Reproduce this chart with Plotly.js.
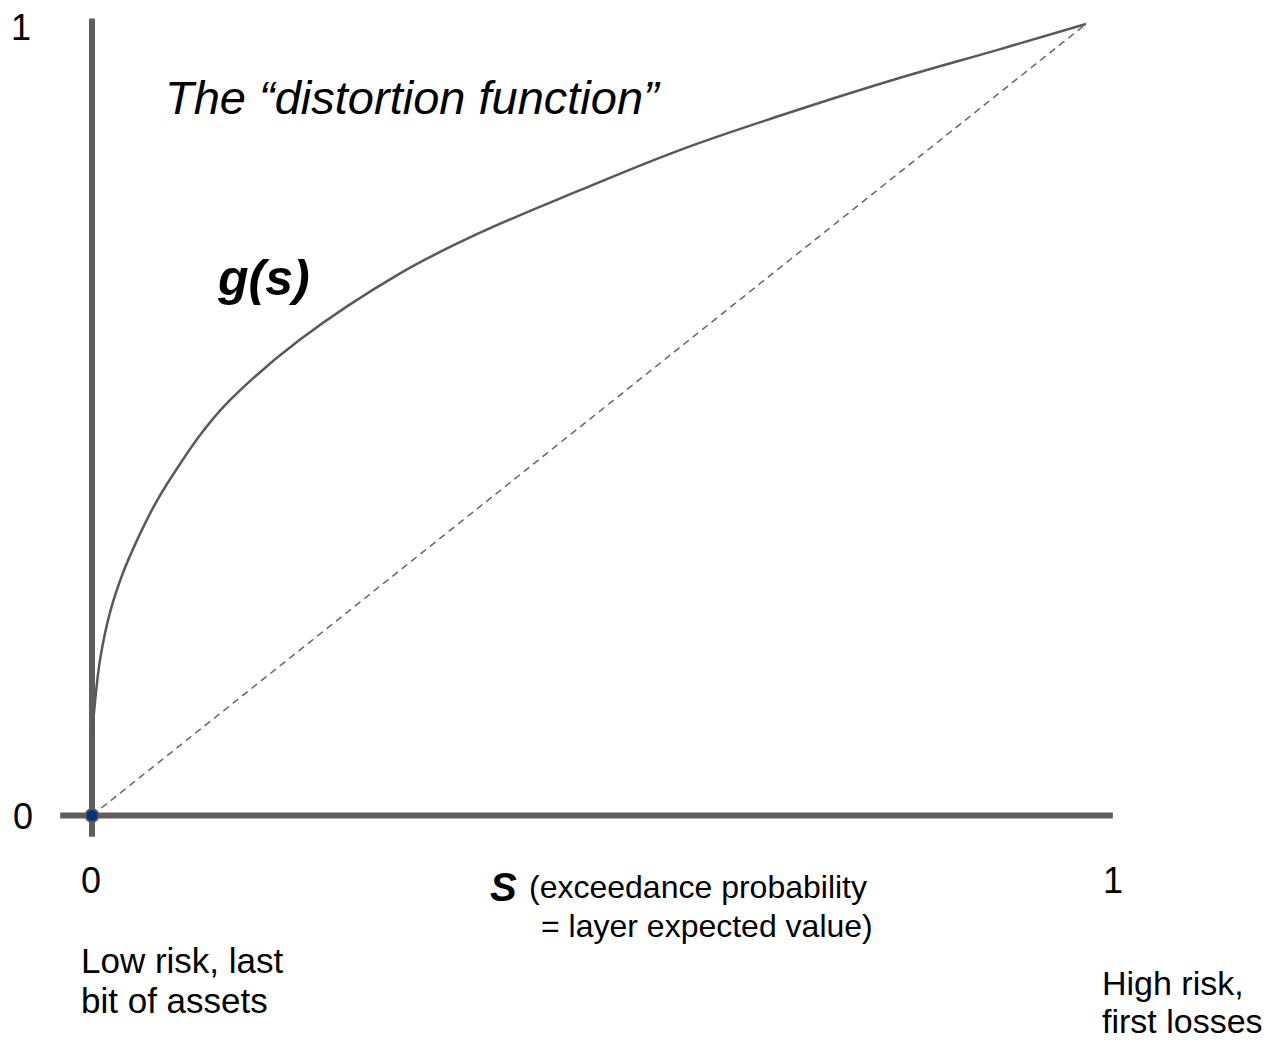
<!DOCTYPE html>
<html>
<head>
<meta charset="utf-8">
<script src="https://cdn.plot.ly/plotly-3.0.1.min.js"></script>
<style>html,body{margin:0;padding:0;background:#fff;}#chart{width:1281px;height:1041px;}</style>
</head>
<body>
<div id="chart"></div>
<script>
// Data
const sValues = [0, 0.002, 0.008, 0.018, 0.031, 0.045, 0.065, 0.089, 0.112, 0.139, 0.209, 0.31, 0.39, 0.491, 0.592, 0.692, 0.813, 0.913, 1];
const gValues = [0.100, 0.130, 0.196, 0.256, 0.306, 0.347, 0.397, 0.445, 0.486, 0.525, 0.601, 0.685, 0.736, 0.790, 0.841, 0.884, 0.932, 0.968, 1];
const diagS = [0, 1];
const diagG = [0, 1];
const originS = [0];
const originG = [0];
const tickLabelsX = ['0', '1'];
const tickLabelsY = ['0', '1'];
const titleText = 'The \u201cdistortion function\u201d';
const curveLabel = 'g(s)';
const xLabelMain = 'S';
const xLabelLine1 = '(exceedance probability';
const xLabelLine2 = '= layer expected value)';
const lowRiskLines = ['Low risk, last', 'bit of assets'];
const highRiskLines = ['High risk,', 'first losses'];

const W = 1281, H = 1041;
const FONT = 'Liberation Sans, Arial, sans-serif';
const px = x => x / W;
const py = y => 1 - y / H;

const axisColor = '#5e5e5e';

const traces = [
  {x: diagS, y: diagG, mode: 'lines', line: {color: '#666666', width: 1.5, dash: '7px,5px'}, hoverinfo: 'skip'},
  {x: sValues, y: gValues, mode: 'lines', line: {color: '#595959', width: 2.5, shape: 'spline', smoothing: 1.1}, hoverinfo: 'skip'},
  {x: originS, y: originG, mode: 'markers', marker: {color: '#0b2f7a', size: 13, line: {color: '#5e5e5e', width: 2}}, hoverinfo: 'skip'}
];

function ann(text, x, y, size, opts) {
  return Object.assign({
    text: text, xref: 'paper', yref: 'paper', x: px(x), y: py(y),
    xanchor: 'left', yanchor: 'middle', showarrow: false, borderpad: 0,
    font: {family: FONT, size: size, color: '#000000'}
  }, opts || {});
}

const annotations = [
  ann(tickLabelsY[1], 21, 27, 36, {xanchor: 'center'}),
  ann(tickLabelsY[0], 23, 816, 36, {xanchor: 'center'}),
  ann(tickLabelsX[0], 91, 880, 36, {xanchor: 'center'}),
  ann(tickLabelsX[1], 1113, 880, 36, {xanchor: 'center'}),
  ann('<i>' + titleText + '</i>', 164, 97, 47),
  ann('<b><i>' + curveLabel + '</i></b>', 216, 278, 50),
  ann('<b><i>' + xLabelMain + '</i></b>', 489, 887, 40),
  ann(xLabelLine1, 528, 887, 32),
  ann(xLabelLine2, 540, 926, 32),
  ann(lowRiskLines[0], 80, 960, 35),
  ann(lowRiskLines[1], 80, 1000, 35),
  ann(highRiskLines[0], 1101, 983, 34),
  ann(highRiskLines[1], 1101, 1021, 34)
];

const shapes = [
  {type: 'line', layer: 'below', xref: 'x', yref: 'y', x0: -0.032, x1: 1.027, y0: 0, y1: 0, line: {color: axisColor, width: 6}},
  {type: 'line', layer: 'below', xref: 'x', yref: 'y', x0: 0, x1: 0, y0: -0.027, y1: 1.007, line: {color: axisColor, width: 6}}
];

const layout = {
  width: W, height: H, autosize: false,
  margin: {l: 0, r: 0, t: 0, b: 0, pad: 0},
  paper_bgcolor: '#ffffff', plot_bgcolor: '#ffffff',
  showlegend: false,
  xaxis: {range: [-92 / 994, (W - 92) / 994], visible: false, fixedrange: true},
  yaxis: {range: [(815.5 - H) / 791.5, 815.5 / 791.5], visible: false, fixedrange: true},
  shapes: shapes,
  annotations: annotations,
  font: {family: FONT}
};

Plotly.newPlot('chart', traces, layout, {displayModeBar: false, staticPlot: true});
</script>
</body>
</html>
